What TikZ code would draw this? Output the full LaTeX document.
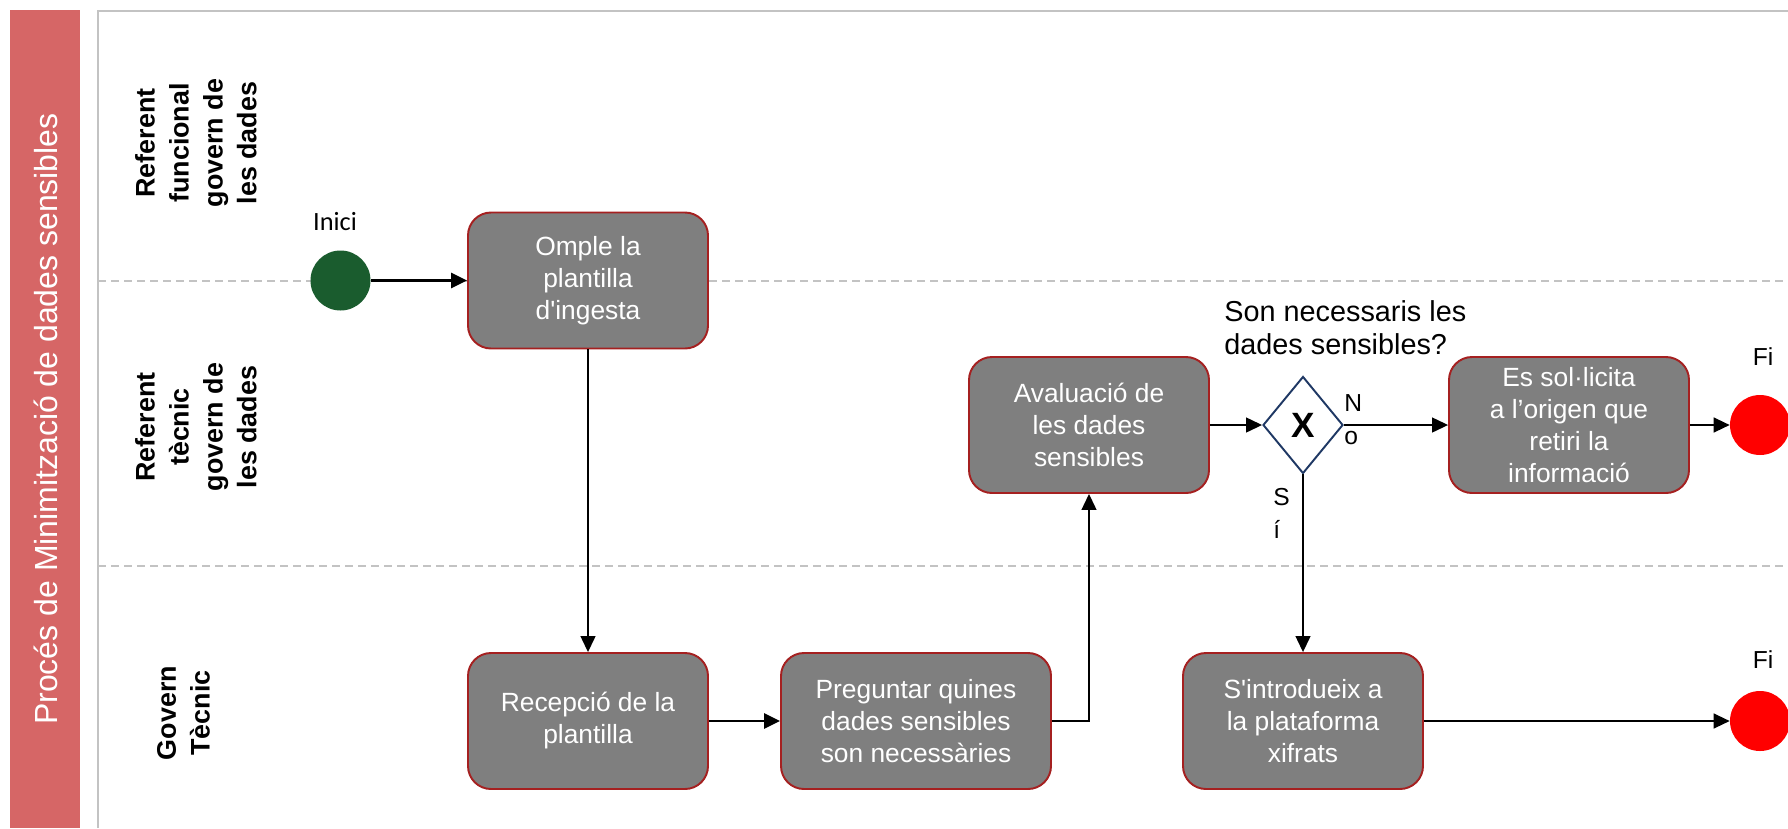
\documentclass[tikz,border=0pt]{standalone}
\usepackage{fontspec}
\setmainfont{Liberation Sans}[Ligatures=TeXOff]
\newfontfamily\inicifont{Carlito}
\usepackage{tikz}
\usetikzlibrary{arrows.meta,shapes.geometric}
\definecolor{titlered}{RGB}{214,102,102}
\definecolor{boxgray}{RGB}{127,127,127}
\definecolor{boxborder}{RGB}{165,32,32}
\definecolor{startgreen}{RGB}{26,92,46}
\definecolor{gatenavy}{RGB}{31,56,100}
\definecolor{lanegray}{RGB}{195,195,195}

\begin{document}
\begin{tikzpicture}[>={Triangle[length=0.32cm,width=0.3cm]},
  task/.style={draw=boxborder,line width=1.1pt,fill=boxgray,rounded corners=0.46cm,
    minimum width=4.8cm,minimum height=2.72cm,align=center,text=white,
    font=\fontsize{15}{18.2}\selectfont},
  event/.style={circle,minimum size=1.2cm,inner sep=0pt},
  flow/.style={->,line width=0.75pt},
  bigflow/.style={->,line width=1.5pt},
  lanename/.style={rotate=90,align=center,inner sep=0pt,
    font=\fontsize{15.3}{19.3}\selectfont\bfseries},
  plain/.style={inner sep=0pt,align=left,font=\fontsize{14}{18.7}\selectfont}]
  \useasboundingbox (0,0) rectangle (35.76,-16.56);
  %
  % Pool and lanes
  \fill[titlered] (0.2,-0.2) rectangle (1.6,-16.56);
  \node[rotate=90,text=white,inner sep=0pt,font=\fontsize{18.2}{22}\selectfont]
    (title) at (0.92,-8.38) {Procés de Minimització de dades sensibles};
  \draw[lanegray,line width=1.1pt] (1.96,-16.56) -- (1.96,-0.22) -- (35.76,-0.22);
  \foreach \y in {-5.62,-11.32}
    \draw[lanegray,line width=0.8pt,dash pattern=on 0.16cm off 0.1cm] (1.96,\y) -- (35.76,\y);
  \node[lanename] (lanefunc) at (3.92,-2.86) {Referent\\funcional\\govern de\\les dades};
  \node[lanename] (lanetec) at (3.92,-8.54) {Referent\\tècnic\\govern de\\les dades};
  \node[lanename] (lanegov) at (3.67,-14.26) {Govern\\Tècnic};
  %
  % Events and tasks
  \node[event,fill=startgreen] (inici) at (6.81,-5.61) {};
  \node[anchor=base,inner sep=0pt,font=\inicifont\fontsize{15}{18}\selectfont]
    (inicilbl) at (6.7,-4.6) {Inici};
  \node[task] (omple) at (11.76,-5.61) {Omple la\\plantilla\\d'ingesta};
  \node[task] (recep) at (11.76,-14.42) {Recepció de la\\plantilla};
  \node[task,minimum width=5.4cm] (preg) at (18.32,-14.42)
    {Preguntar quines\\dades sensibles\\son necessàries};
  \node[task] (aval) at (21.78,-8.5) {Avaluació de\\les dades\\sensibles};
  \node[diamond,draw=gatenavy,line width=1.1pt,minimum width=1.6cm,minimum height=1.94cm,
    inner sep=0pt,font=\fontsize{20}{24}\selectfont\bfseries] (gw) at (26.06,-8.5) {X};
  \node[anchor=west,inner sep=0pt,align=left,font=\fontsize{16.4}{18.7}\selectfont]
    (question) at (24.48,-6.56) {Son necessaris les\\dades sensibles?};
  \node[task] (sollicita) at (31.38,-8.5) {Es sol·licita\\a l’origen que\\retiri la\\informació};
  \node[task] (intro) at (26.06,-14.42) {S'introdueix a\\la plataforma\\xifrats};
  \node[event,fill=red] (fitop) at (35.2,-8.5) {};
  \node[event,fill=red] (fibot) at (35.2,-14.42) {};
  \node[plain,anchor=base] (fitoplbl) at (35.26,-7.3) {Fi};
  \node[plain,anchor=base] (fibotlbl) at (35.26,-13.36) {Fi};
  %
  % Flows
  \draw[bigflow] (inici) -- (omple);
  \draw[flow] (omple) -- (recep);
  \draw[bigflow] (recep) -- (preg);
  \draw[flow] (preg.east) -| (aval.south);
  \draw[flow] (aval) -- (gw);
  \draw[flow] (gw) -- (sollicita);
  \draw[flow] (sollicita) -- (fitop);
  \draw[flow] (gw) -- (intro);
  \draw[flow] (intro) -- (fibot);
  %
  % Gateway labels
  \node[plain,anchor=west] (nolbl) at (26.88,-8.4) {N\\o};
  \node[plain,anchor=west] (silbl) at (25.46,-10.26) {S\\í};
  %
\end{tikzpicture}
\end{document}
